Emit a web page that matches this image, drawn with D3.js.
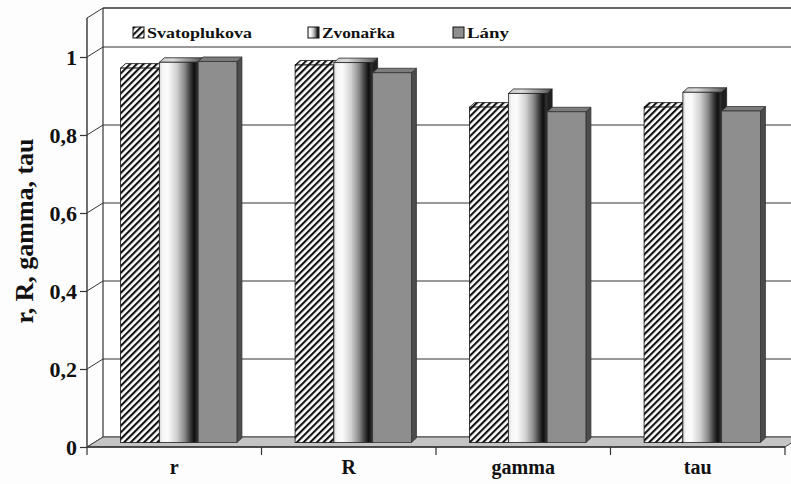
<!DOCTYPE html>
<html>
<head>
<meta charset="utf-8">
<script src="https://cdn.jsdelivr.net/npm/d3@7"></script>
<style>
  body { margin: 0; background: #fdfdfd; }
  svg { display: block; }
</style>
</head>
<body>
<svg id="chart" width="791" height="484"></svg>
<script>
// Correlation measures per locality
const categories = ["r", "R", "gamma", "tau"];
const seriesNames = ["Svatoplukova", "Zvonařka", "Lány"];
const svatoplukova = [0.96, 0.968, 0.86, 0.86];
const zvonarka = [0.975, 0.974, 0.895, 0.898];
const lany = [0.977, 0.948, 0.848, 0.85];
const yTicks = [0, 0.2, 0.4, 0.6, 0.8, 1];
const yTickLabels = ["0", "0,2", "0,4", "0,6", "0,8", "1"];
const yMax = 1.1;
const yTitle = "r, R, gamma, tau";

const series = [svatoplukova, zvonarka, lany];
const FONT = "'Liberation Serif', 'Times New Roman', serif";

const svg = d3.select("#chart");
const defs = svg.append("defs");

// 3D projection offsets
const wall = { dx: 16, dy: -10 };   // full depth of the floor / side wall
const plane = { dx: 4.5, dy: -4.5 }; // front plane of the columns
const depth = { dx: 5, dy: -4.5 };  // column thickness

const x = d3.scaleBand().domain(categories).range([87, 785]).padding(0);
const inner = d3.scaleBand().domain(d3.range(series.length)).range([0, x.bandwidth()])
  .paddingInner(0).paddingOuter(0.75);
const y = d3.scaleLinear().domain([0, yMax]).range([447, 18]);

// fills
const hatch = defs.append("pattern").attr("id", "hatch")
  .attr("patternUnits", "userSpaceOnUse").attr("width", 4.7).attr("height", 10)
  .attr("patternTransform", "rotate(45)");
hatch.append("rect").attr("width", 4.7).attr("height", 10).attr("fill", "#fff");
hatch.append("rect").attr("width", 2.1).attr("height", 10).attr("fill", "#111");

const cyl = defs.append("linearGradient").attr("id", "cyl").attr("x1", 0).attr("x2", 1).attr("y1", 0).attr("y2", 0);
[[0, "#d4d4d4"], [0.08, "#f6f6f6"], [0.22, "#fbfbfb"], [0.45, "#d0d0d0"], [0.65, "#8a8a8a"], [0.8, "#3a3a3a"], [0.9, "#0e0e0e"], [1, "#3c3c3c"]]
  .forEach(([o, c]) => cyl.append("stop").attr("offset", o).attr("stop-color", c));
const cylTop = defs.append("linearGradient").attr("id", "cylTop").attr("x1", 0).attr("x2", 1).attr("y1", 0).attr("y2", 0);
[[0, "#c8c8c8"], [0.3, "#dcdcdc"], [0.8, "#7a7a7a"], [1, "#4a4a4a"]]
  .forEach(([o, c]) => cylTop.append("stop").attr("offset", o).attr("stop-color", c));

const styles = [
  { front: "url(#hatch)", top: "url(#hatch)", side: "#222", stroke: "#111" },
  { front: "url(#cyl)", top: "url(#cylTop)", side: "#202020", stroke: "#222" },
  { front: "#8e8e8e", top: "#7c7c7c", side: "#4c4c4c", stroke: "#333" }
];

const x0 = x.range()[0], x1 = x.range()[1];
const yb = v => y(v) + wall.dy;

// back wall
const g = svg.append("g");
g.append("rect").attr("x", x0 + wall.dx).attr("y", yb(yMax))
  .attr("width", 791 - x0 - wall.dx).attr("height", yb(0) - yb(yMax)).attr("fill", "#fff");

// gridlines on the back wall and the side wall
const gridVals = yTicks.concat([yMax]);
g.selectAll(".grid").data(gridVals).join("line")
  .attr("x1", x0 + wall.dx).attr("x2", 800).attr("y1", d => yb(d)).attr("y2", d => yb(d))
  .attr("stroke", "#333").attr("stroke-width", d => d === yMax ? 1.6 : 1);
g.selectAll(".side").data(gridVals).join("line")
  .attr("x1", x0).attr("x2", x0 + wall.dx).attr("y1", d => y(d)).attr("y2", d => yb(d))
  .attr("stroke", "#333").attr("stroke-width", 1);
g.append("line").attr("x1", x0 + wall.dx).attr("x2", x0 + wall.dx)
  .attr("y1", yb(0)).attr("y2", yb(yMax)).attr("stroke", "#333").attr("stroke-width", 1.2);

// floor
g.append("path")
  .attr("d", `M${x0},${y(0)}L${x1},${y(0)}L${x1 + wall.dx},${yb(0)}L${x0 + wall.dx},${yb(0)}Z`)
  .attr("fill", "#c4c4c4").attr("stroke", "#444").attr("stroke-width", 1);

// columns
const bars = svg.append("g");
categories.forEach((cat, i) => {
  series.forEach((vals, s) => {
    const v = vals[i];
    const st = styles[s];
    const bx = x(cat) + inner(s) + plane.dx;
    const w = inner.bandwidth();
    const yt = y(v) + plane.dy;
    const ybot = y(0) + plane.dy;
    const b = bars.append("g");
    b.append("path")
      .attr("d", `M${bx + w},${yt}L${bx + w + depth.dx},${yt + depth.dy}L${bx + w + depth.dx},${ybot + depth.dy}L${bx + w},${ybot}Z`)
      .attr("fill", st.side).attr("stroke", st.stroke).attr("stroke-width", 0.8);
    b.append("path")
      .attr("d", `M${bx},${yt}L${bx + w},${yt}L${bx + w + depth.dx},${yt + depth.dy}L${bx + depth.dx},${yt + depth.dy}Z`)
      .attr("fill", st.top).attr("stroke", st.stroke).attr("stroke-width", 0.8);
    b.append("rect").attr("x", bx).attr("y", yt).attr("width", w).attr("height", ybot - yt)
      .attr("fill", st.front).attr("stroke", st.stroke).attr("stroke-width", 0.8);
  });
});

// y axis (front edge)
const yAxis = svg.append("g").attr("transform", `translate(${x0},0)`)
  .call(d3.axisLeft(y).tickValues(yTicks).tickFormat((d, i) => yTickLabels[i]).tickSize(7).tickPadding(3));
yAxis.attr("font-family", FONT);
yAxis.select(".domain").attr("d", `M0,${y(0)}V${y(yMax)}`).attr("stroke", "#333").attr("stroke-width", 1.4);
yAxis.selectAll(".tick line").attr("stroke", "#333").attr("stroke-width", 1.2);
yAxis.selectAll(".tick text").attr("font-size", 22).attr("font-weight", "bold")
  .style("font-family", FONT).attr("fill", "#111");

// x axis (front edge) with ticks at category boundaries
const xAxis = svg.append("g").attr("transform", `translate(0,${y(0)})`)
  .call(d3.axisBottom(x).tickSize(0).tickPadding(13));
xAxis.attr("font-family", FONT);
xAxis.select(".domain").attr("d", `M${x0},0H${x1}`).attr("stroke", "#333").attr("stroke-width", 1.4);
xAxis.selectAll(".tick text").attr("font-size", 20).attr("font-weight", "bold")
  .style("font-family", FONT).attr("fill", "#111");
xAxis.selectAll(".bound").data(categories.map(c => x(c)).concat([x1])).join("line")
  .attr("x1", d => d).attr("x2", d => d).attr("y1", 0).attr("y2", 8)
  .attr("stroke", "#333").attr("stroke-width", 1.2);

// y axis title
svg.append("text").attr("transform", "translate(33,231) rotate(-90)")
  .attr("text-anchor", "middle").attr("font-size", 25).attr("font-weight", "bold")
  .style("font-family", FONT).attr("fill", "#111")
  .attr("textLength", 185).attr("lengthAdjust", "spacingAndGlyphs").text(yTitle);

// legend
const legendX = [133, 308, 453];
const legendW = [105, 73, 42];
const legend = svg.append("g");
seriesNames.forEach((name, s) => {
  const lg = legend.append("g").attr("transform", `translate(${legendX[s]},27)`);
  lg.append("rect").attr("width", 11).attr("height", 11)
    .attr("fill", s === 1 ? "url(#cyl)" : styles[s].front).attr("stroke", "#111").attr("stroke-width", 1);
  lg.append("text").attr("x", 14).attr("y", 10.5).attr("font-size", 15).attr("font-weight", "bold")
    .style("font-family", FONT).attr("fill", "#111")
    .attr("textLength", legendW[s]).attr("lengthAdjust", "spacingAndGlyphs").text(name);
});
</script>
</body>
</html>
